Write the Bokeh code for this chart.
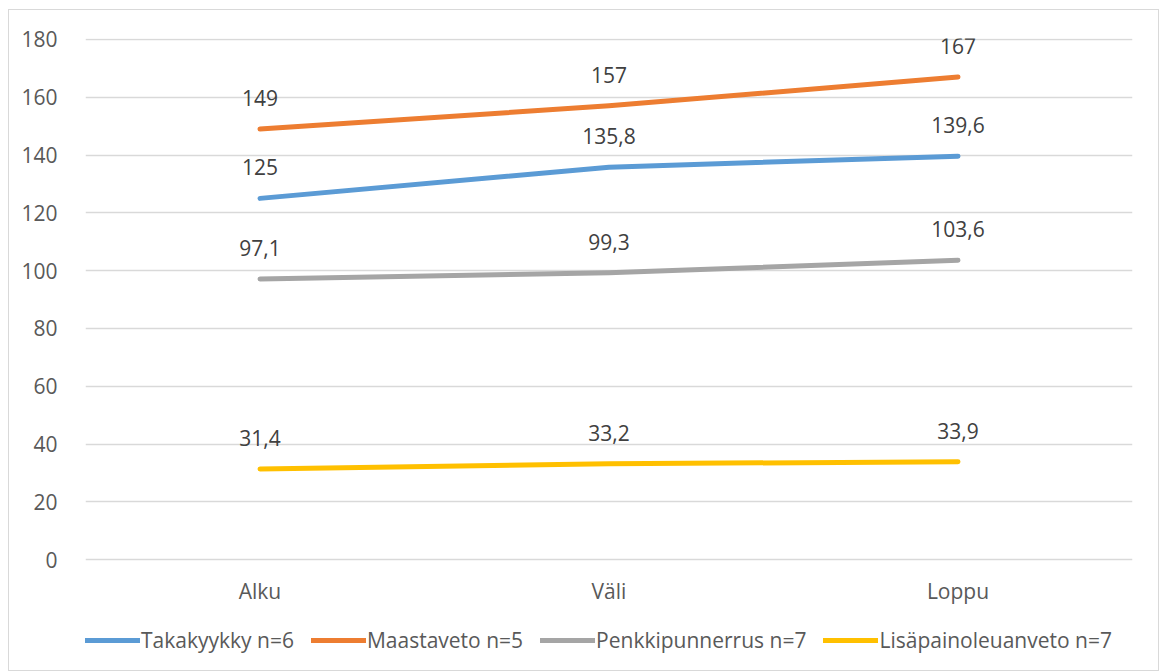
from bokeh.plotting import figure
from bokeh.models import (ColumnDataSource, LabelSet, Legend, LegendItem,
                          FactorRange, Range1d, FixedTicker)
from bokeh.core.properties import value
from bokeh.embed import file_html
from bokeh.resources import INLINE

# Measurement points
phases = ["Alku", "Väli", "Loppu"]

# Results per lift (kg)
takakyykky = [125, 135.8, 139.6]
maastaveto = [149, 157, 167]
penkkipunnerrus = [97.1, 99.3, 103.6]
lisapainoleuanveto = [31.4, 33.2, 33.9]

# Value axis ticks
y_ticks = [0, 20, 40, 60, 80, 100, 120, 140, 160, 180]

series = [
    ("Takakyykky n=6", takakyykky, "#5B9BD5"),
    ("Maastaveto n=5", maastaveto, "#ED7D31"),
    ("Penkkipunnerrus n=7", penkkipunnerrus, "#A5A5A5"),
    ("Lisäpainoleuanveto n=7", lisapainoleuanveto, "#FFC000"),
]

FONT = "Open Sans"
FS = "21px"


def fmt(v):
    return ("%g" % v).replace(".", ",")


# the frame runs to the bottom of the chart so the category labels and
# the legend can sit inside it below the zero line
p = figure(width=1151, height=662, x_range=FactorRange(*phases, range_padding=0),
           y_range=Range1d(-39.0, 180.3), output_backend="svg", toolbar_location=None,
           min_border_left=76, min_border_right=28, min_border_top=28,
           min_border_bottom=0,
           styles={"border": "1px solid #D9D9D9", "margin-left": "8px",
                   "margin-top": "9px"})

p.outline_line_color = None
p.background_fill_color = "white"
p.border_fill_color = "white"

p.xaxis.visible = False
p.xgrid.grid_line_color = None
p.ygrid.grid_line_color = "#D9D9D9"
p.ygrid.grid_line_width = 1.3

p.yaxis.ticker = FixedTicker(ticks=y_ticks)
ax = p.yaxis[0]
ax.axis_line_color = None
ax.major_tick_line_color = None
ax.minor_tick_line_color = None
ax.major_label_text_font = FONT
ax.major_label_text_font_size = FS
ax.major_label_text_color = "#595959"
ax.major_label_standoff = 22

# category labels under the zero line
cat_src = ColumnDataSource(dict(x=phases, y=[0] * len(phases)))
p.add_layout(LabelSet(x="x", y="y", text="x", source=cat_src, y_offset=-31,
                      text_align="center", text_baseline="middle",
                      text_font=value(FONT), text_font_size=FS,
                      text_color="#595959"))

items = []
for name, vals, color in series:
    src = ColumnDataSource(dict(x=phases, y=vals, lab=[fmt(v) for v in vals]))
    r = p.line("x", "y", source=src, line_color=color, line_width=5,
               line_cap="round", line_join="round")
    items.append(LegendItem(label=name, renderers=[r]))
    p.add_layout(LabelSet(x="x", y="y", text="lab", source=src, y_offset=31,
                          text_align="center", text_baseline="middle",
                          text_font=value(FONT), text_font_size=FS,
                          text_color="#404040"))

legend = Legend(items=items, orientation="horizontal", location=(0, 18),
                glyph_width=55, glyph_height=10, label_standoff=1, spacing=17,
                padding=0, margin=0, border_line_color=None,
                background_fill_alpha=0, label_text_font=FONT,
                label_text_font_size=FS, label_text_color="#595959")
p.add_layout(legend, "center")

open("out.html", "w").write(file_html(p, INLINE))
